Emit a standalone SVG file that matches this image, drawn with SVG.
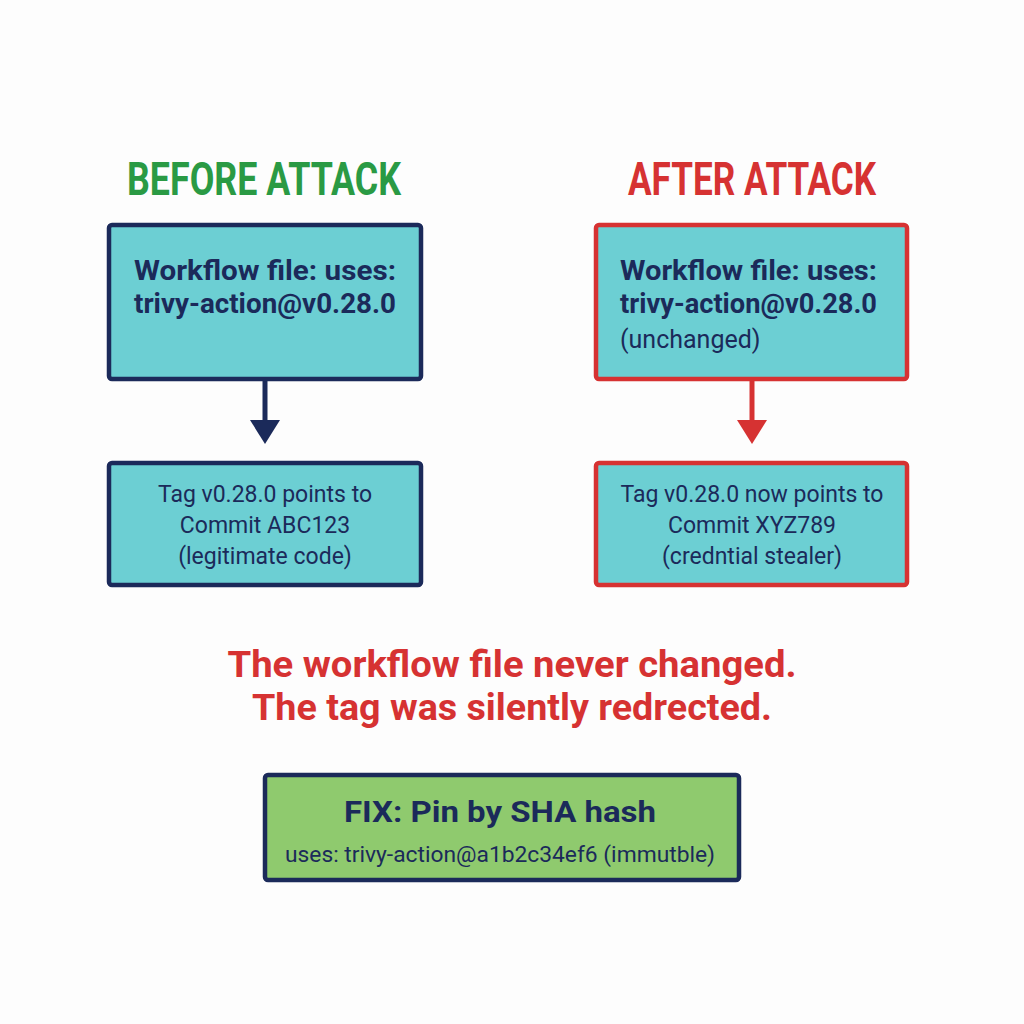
<svg xmlns="http://www.w3.org/2000/svg" width="1024" height="1024" viewBox="0 0 1024 1024">
<defs>
<style>
.bg{fill:#fdfdfd}
.box{fill:#6ccfd3;stroke-width:4.5}
.navy{stroke:#1b2a5a}
.red{stroke:#d63232}
.fix{fill:#8fca6e;stroke:#1b2a5a;stroke-width:4.5}
.t{font-family:Roboto,"Liberation Sans",sans-serif;fill:#1b2a5a}
.b{font-weight:700}
.title{font-family:Roboto,"Liberation Sans",sans-serif;font-weight:700;font-size:47px}
.msg{font-family:Roboto,"Liberation Sans",sans-serif;font-weight:700;font-size:37px;fill:#d63232}
</style>
</defs>
<rect class="bg" x="0" y="0" width="1024" height="1024"/>
<text class="title" x="264" y="195" text-anchor="middle" fill="#2a9a44" textLength="274" lengthAdjust="spacingAndGlyphs">BEFORE ATTACK</text>
<text class="title" x="752" y="195" text-anchor="middle" fill="#d63232" textLength="248" lengthAdjust="spacingAndGlyphs">AFTER ATTACK</text>
<g id="connectors">
<line x1="265" y1="379" x2="265" y2="422" stroke="#1b2a5a" stroke-width="5"/>
<polygon points="250,420 280,420 265,444" fill="#1b2a5a"/>
<line x1="752" y1="379" x2="752" y2="422" stroke="#d63232" stroke-width="5"/>
<polygon points="737,420 767,420 752,444" fill="#d63232"/>
</g>
<g id="before-workflow">
<rect class="box navy" x="109" y="225" width="312" height="154" rx="3"/>
<text class="t b" x="265" y="280" text-anchor="middle" font-size="27" textLength="262" lengthAdjust="spacingAndGlyphs">Workflow file: uses:</text>
<text class="t b" x="265" y="313" text-anchor="middle" font-size="27" textLength="262" lengthAdjust="spacingAndGlyphs">trivy-action@v0.28.0</text>
</g>
<g id="before-tag">
<rect class="box navy" x="109" y="463" width="312" height="122" rx="3"/>
<text class="t" x="265" y="502" text-anchor="middle" font-size="23">Tag v0.28.0 points to</text>
<text class="t" x="265" y="533" text-anchor="middle" font-size="23">Commit ABC123</text>
<text class="t" x="265" y="564" text-anchor="middle" font-size="23">(legitimate code)</text>
</g>
<g id="after-workflow">
<rect class="box red" x="596" y="225" width="311" height="154" rx="3"/>
<text class="t b" x="620" y="280" font-size="27" textLength="257" lengthAdjust="spacingAndGlyphs">Workflow file: uses:</text>
<text class="t b" x="620" y="313" font-size="27" textLength="257" lengthAdjust="spacingAndGlyphs">trivy-action@v0.28.0</text>
<text class="t" x="620" y="348" font-size="25">(unchanged)</text>
</g>
<g id="after-tag">
<rect class="box red" x="596" y="463" width="311" height="122" rx="3"/>
<text class="t" x="752" y="502" text-anchor="middle" font-size="23">Tag v0.28.0 now points to</text>
<text class="t" x="752" y="533" text-anchor="middle" font-size="23">Commit XYZ789</text>
<text class="t" x="752" y="564" text-anchor="middle" font-size="23">(credntial stealer)</text>
</g>
<text class="msg" x="512" y="677" text-anchor="middle" textLength="569" lengthAdjust="spacingAndGlyphs">The workflow file never changed.</text>
<text class="msg" x="512" y="720" text-anchor="middle" textLength="520" lengthAdjust="spacingAndGlyphs">The tag was silently redrected.</text>
<g id="fix">
<rect class="fix" x="265" y="775" width="474" height="105" rx="3"/>
<text class="t b" x="500" y="822" text-anchor="middle" font-size="30" textLength="312" lengthAdjust="spacingAndGlyphs">FIX: Pin by SHA hash</text>
<text class="t" x="500" y="862" text-anchor="middle" font-size="22" textLength="430" lengthAdjust="spacingAndGlyphs">uses: trivy-action@a1b2c34ef6 (immutble)</text>
</g>
</svg>
